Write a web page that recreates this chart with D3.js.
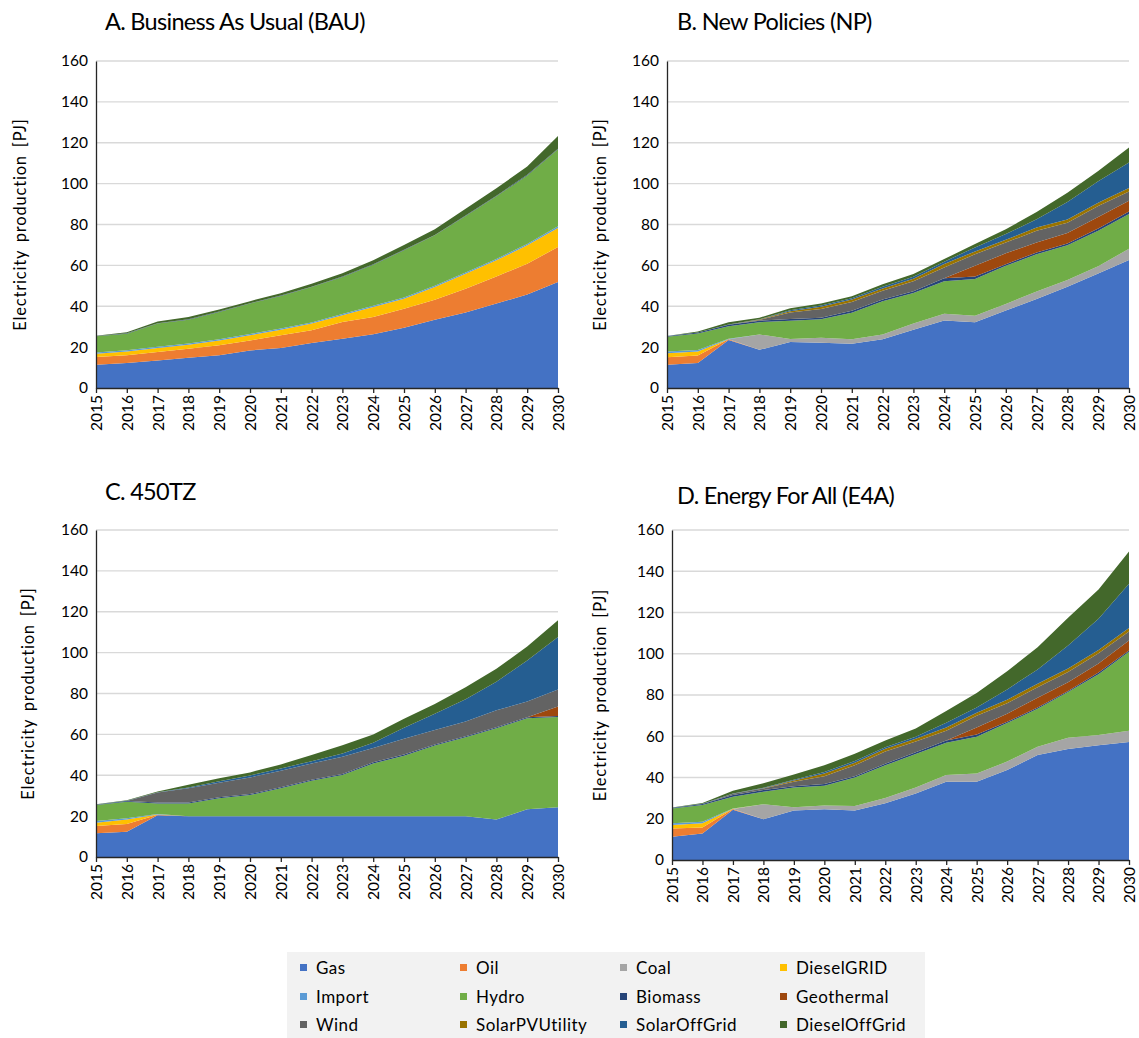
<!DOCTYPE html>
<html>
<head>
<meta charset="utf-8">
<script src="https://cdn.jsdelivr.net/npm/d3@7"></script>
<style>
  body { margin: 0; background: #fff; }
  svg { display: block; }
  text { font-family: Lato, "Noto Sans", sans-serif; fill: #000; }
</style>
</head>
<body>
<svg id="chart" width="1139" height="1038"></svg>
<script>
// Years on the horizontal axis
const years = [2015, 2016, 2017, 2018, 2019, 2020, 2021, 2022, 2023, 2024, 2025, 2026, 2027, 2028, 2029, 2030];
const yTicks = [0, 20, 40, 60, 80, 100, 120, 140, 160];

// Technologies, in stacking order (bottom to top)
const techNames = ["Gas", "Oil", "Coal", "DieselGRID", "Import", "Hydro", "Biomass",
  "Geothermal", "Wind", "SolarPVUtility", "SolarOffGrid", "DieselOffGrid"];
const techColors = ["#4472C4", "#ED7D31", "#A5A5A5", "#FFC000", "#5B9BD5", "#70AD47", "#264478",
  "#9E480E", "#636363", "#997300", "#255E91", "#43682B"];

// A. Business As Usual (BAU) — electricity production [PJ]
const bauGas = [11.4, 12.2, 13.5, 14.8, 16.0, 18.4, 19.6, 22.0, 24.1, 26.3, 29.5, 33.4, 36.9, 41.3, 45.7, 51.9];
const bauOil = [3.8, 3.8, 4.1, 4.4, 4.9, 4.9, 6.2, 6.2, 8.2, 8.4, 9.3, 9.8, 11.7, 13.3, 15.1, 17.1];
const bauCoal = [0, 0, 0, 0, 0, 0, 0, 0, 0, 0, 0, 0, 0, 0, 0, 0];
const bauDieselGRID = [1.6, 1.9, 2.0, 2.0, 2.4, 2.5, 2.7, 3.3, 3.3, 4.9, 4.9, 6.2, 7.3, 7.9, 9.0, 9.3];
const bauImport = [0.6, 0.6, 0.6, 0.6, 0.6, 0.6, 0.6, 0.6, 0.6, 0.6, 0.6, 0.6, 0.6, 0.6, 0.7, 0.8];
const bauHydro = [7.9, 8.1, 11.3, 11.6, 13.3, 14.9, 15.9, 17.3, 18.1, 20.1, 23.1, 24.7, 27.7, 30.7, 33.5, 37.7];
const bauBiomass = [0.1, 0.2, 0.2, 0.2, 0.2, 0.2, 0.2, 0.2, 0.2, 0.2, 0.2, 0.2, 0.2, 0.3, 0.3, 0.3];
const bauGeothermal = [0, 0, 0, 0, 0, 0, 0, 0, 0, 0, 0, 0, 0, 0, 0, 0];
const bauWind = [0, 0, 0, 0, 0, 0, 0, 0, 0, 0, 0, 0, 0, 0, 0, 0];
const bauSolarPVUtility = [0, 0, 0, 0, 0, 0, 0, 0, 0, 0, 0, 0, 0, 0, 0, 0];
const bauSolarOffGrid = [0, 0, 0, 0, 0, 0, 0, 0, 0, 0, 0, 0, 0, 0, 0, 0];
const bauDieselOffGrid = [0.2, 0.5, 0.8, 1.1, 1.0, 1.0, 1.2, 1.4, 1.6, 2.0, 2.4, 2.8, 3.3, 3.6, 4.1, 6.2];

// B. New Policies (NP)
const npGas = [11.4, 12.2, 23.5, 18.7, 22.5, 22.2, 21.7, 23.8, 28.5, 33.0, 32.2, 37.9, 43.6, 49.5, 56.0, 62.6];
const npOil = [3.7, 3.7, 0.3, 0, 0, 0, 0, 0, 0, 0, 0, 0, 0, 0, 0, 0];
const npCoal = [0, 0, 0, 7.5, 1.5, 2.4, 2.1, 2.4, 3.0, 3.3, 3.2, 3.2, 3.6, 3.4, 3.6, 5.5];
const npDieselGRID = [1.9, 2.0, 0.1, 0, 0, 0, 0, 0, 0, 0, 0, 0, 0, 0, 0, 0];
const npImport = [0.8, 0.7, 0.2, 0, 0, 0, 0, 0, 0, 0, 0, 0, 0, 0, 0, 0];
const npHydro = [7.3, 8.1, 6.1, 6.0, 8.9, 9.1, 13.0, 16.2, 15.0, 15.9, 17.9, 18.7, 18.3, 17.0, 17.3, 17.0];
const npBiomass = [0.2, 0.4, 0.8, 0.7, 0.9, 0.7, 1.0, 0.9, 0.9, 1.5, 1.2, 0.8, 0.8, 0.8, 1.1, 1.2];
const npGeothermal = [0, 0, 0, 0, 0, 0, 0, 0, 0, 0, 5.3, 5.3, 4.9, 5.2, 5.7, 5.3];
const npWind = [0, 0, 0, 0.4, 3.2, 4.2, 4.3, 4.3, 4.8, 5.3, 5.7, 5.3, 5.7, 4.9, 5.4, 4.6];
const npSolarPVUtility = [0, 0, 0, 0.2, 0.6, 1.2, 1.2, 1.1, 1.3, 1.7, 1.3, 1.3, 1.6, 1.6, 1.6, 1.6];
const npSolarOffGrid = [0.1, 0.1, 0.1, 0.1, 0.5, 0.6, 0.6, 0.8, 0.9, 1.1, 2.0, 2.8, 4.1, 8.6, 10.5, 12.5];
const npDieselOffGrid = [0.1, 0.4, 1.1, 0.8, 0.9, 0.9, 1.0, 1.3, 1.4, 1.3, 1.6, 2.4, 3.5, 4.5, 5.0, 7.4];

// C. 450TZ
const tzGas = [11.6, 12.4, 20.4, 19.9, 19.9, 19.9, 19.9, 19.9, 19.9, 19.9, 19.9, 19.9, 19.9, 18.3, 23.4, 24.3];
const tzOil = [3.6, 3.7, 0.3, 0, 0, 0, 0, 0, 0, 0, 0, 0, 0, 0, 0, 0];
const tzCoal = [0, 0, 0, 0, 0, 0, 0, 0, 0, 0, 0, 0, 0, 0, 0, 0];
const tzDieselGRID = [1.6, 2.3, 0.1, 0, 0, 0, 0, 0, 0, 0, 0, 0, 0, 0, 0, 0];
const tzImport = [0.8, 0.5, 0.2, 0, 0, 0, 0, 0, 0, 0, 0, 0, 0, 0, 0, 0];
const tzHydro = [7.8, 8.1, 5.2, 6.3, 8.8, 10.4, 13.7, 17.4, 20.2, 25.9, 29.7, 34.7, 38.7, 44.7, 44.5, 44.2];
const tzBiomass = [0.2, 0.4, 0.5, 0.5, 0.5, 0.5, 0.5, 0.5, 0.5, 0.5, 0.5, 0.5, 0.5, 0.5, 0.5, 0.5];
const tzGeothermal = [0, 0, 0, 0, 0, 0, 0, 0, 0, 0, 0, 0, 0, 0, 0, 4.6];
const tzWind = [0, 0, 4.9, 6.9, 7.1, 8.1, 8.1, 8.0, 8.4, 7.0, 7.7, 7.1, 7.2, 8.3, 7.7, 8.4];
const tzSolarPVUtility = [0, 0, 0, 0, 0, 0, 0, 0, 0, 0, 0, 0, 0, 0, 0, 0];
const tzSolarOffGrid = [0.1, 0.1, 0.1, 0.4, 0.8, 1.0, 1.1, 1.1, 1.7, 2.6, 5.5, 7.9, 10.9, 14.0, 20.1, 25.6];
const tzDieselOffGrid = [0.1, 0.3, 0.3, 1.3, 1.4, 1.5, 2.0, 3.0, 4.0, 4.1, 4.3, 4.8, 5.9, 6.3, 6.8, 8.2];

// D. Energy For All (E4A)
const e4aGas = [11.3, 12.9, 24.4, 19.8, 24.0, 24.6, 24.0, 27.5, 32.3, 38.0, 38.0, 43.6, 50.9, 53.8, 55.6, 57.2];
const e4aOil = [4.0, 2.8, 0.3, 0, 0, 0, 0, 0, 0, 0, 0, 0, 0, 0, 0, 0];
const e4aCoal = [0, 0, 0, 7.2, 1.6, 1.8, 2.2, 2.6, 2.9, 3.2, 4.0, 4.1, 4.0, 5.5, 5.0, 5.5];
const e4aDieselGRID = [1.7, 2.1, 0.1, 0, 0, 0, 0, 0, 0, 0, 0, 0, 0, 0, 0, 0];
const e4aImport = [0.8, 0.8, 0.2, 0, 0, 0, 0, 0, 0, 0, 0, 0, 0, 0, 0, 0];
const e4aHydro = [7.2, 8.1, 5.7, 6.1, 9.6, 9.6, 13.8, 15.8, 16.2, 15.6, 17.8, 18.7, 18.4, 22.1, 29.5, 38.3];
const e4aBiomass = [0.2, 0.5, 0.8, 0.8, 0.6, 0.8, 0.6, 0.8, 0.8, 1.2, 1.0, 0.6, 0.6, 0.6, 0.8, 0.6];
const e4aGeothermal = [0, 0, 0, 0, 0, 0, 0, 0, 0, 0, 3.5, 3.9, 4.8, 4.2, 4.4, 4.8];
const e4aWind = [0, 0, 0.6, 0.8, 2.1, 3.8, 5.3, 5.9, 5.3, 4.7, 5.7, 5.1, 5.1, 5.0, 5.0, 4.4];
const e4aSolarPVUtility = [0, 0, 0, 0.1, 0.6, 1.3, 1.3, 1.3, 1.3, 1.5, 1.4, 1.7, 1.6, 1.6, 1.5, 1.7];
const e4aSolarOffGrid = [0.1, 0.1, 0.1, 0.2, 0.4, 0.8, 0.8, 0.8, 1.0, 2.3, 2.6, 5.0, 7.0, 11.2, 15.2, 21.5];
const e4aDieselOffGrid = [0.1, 0.3, 1.4, 2.2, 2.5, 3.2, 3.5, 3.2, 4.0, 5.8, 7.0, 8.8, 10.8, 13.5, 14.2, 15.6];

// Panel definitions: series arrays per scenario plus the frame of each plot
const panels = [
  { title: "A. Business As Usual (BAU)", tx: 105, ty: 30, left: 96, right: 558, top: 61, bottom: 388, labelX: 20,
    series: [bauGas, bauOil, bauCoal, bauDieselGRID, bauImport, bauHydro, bauBiomass, bauGeothermal, bauWind, bauSolarPVUtility, bauSolarOffGrid, bauDieselOffGrid] },
  { title: "B. New Policies (NP)", tx: 677, ty: 30, left: 667, right: 1129, top: 61, bottom: 388, labelX: 600,
    series: [npGas, npOil, npCoal, npDieselGRID, npImport, npHydro, npBiomass, npGeothermal, npWind, npSolarPVUtility, npSolarOffGrid, npDieselOffGrid] },
  { title: "C. 450TZ", tx: 105, ty: 500, left: 96, right: 558, top: 530, bottom: 857, labelX: 28,
    series: [tzGas, tzOil, tzCoal, tzDieselGRID, tzImport, tzHydro, tzBiomass, tzGeothermal, tzWind, tzSolarPVUtility, tzSolarOffGrid, tzDieselOffGrid] },
  { title: "D. Energy For All (E4A)", tx: 677, ty: 504, left: 672, right: 1129, top: 530, bottom: 860, labelX: 600,
    series: [e4aGas, e4aOil, e4aCoal, e4aDieselGRID, e4aImport, e4aHydro, e4aBiomass, e4aGeothermal, e4aWind, e4aSolarPVUtility, e4aSolarOffGrid, e4aDieselOffGrid] }
];

const svg = d3.select("#chart");
const color = d3.scaleOrdinal().domain(techNames).range(techColors);

panels.forEach(p => {
  const g = svg.append("g");
  const x = d3.scalePoint().domain(years).range([p.left, p.right]);
  const y = d3.scaleLinear().domain([0, 160]).range([p.bottom, p.top]);

  // horizontal gridlines
  g.append("g").selectAll("line").data(yTicks.filter(t => t > 0)).join("line")
    .attr("x1", p.left).attr("x2", p.right)
    .attr("y1", d => y(d)).attr("y2", d => y(d))
    .attr("stroke", "#d9d9d9").attr("stroke-width", 1.3);

  // stacked areas
  const rows = years.map((yr, i) => {
    const r = { year: yr };
    techNames.forEach((k, j) => { r[k] = p.series[j][i]; });
    return r;
  });
  const stacked = d3.stack().keys(techNames)(rows);
  const area = d3.area()
    .x(d => x(d.data.year))
    .y0(d => y(d[0]))
    .y1(d => y(d[1]));
  g.append("g").selectAll("path").data(stacked).join("path")
    .attr("d", area)
    .attr("fill", d => color(d.key));

  // y axis
  const ya = g.append("g").attr("transform", `translate(${p.left},0)`)
    .call(d3.axisLeft(y).tickValues(yTicks).tickSize(0).tickPadding(8));
  ya.select(".domain").attr("stroke", "#262626").attr("stroke-width", 1.3);
  ya.selectAll("text").attr("font-size", 15.5).attr("font-family", "Lato, sans-serif").attr("fill", "#000");

  // x axis with rotated year labels
  const xa = g.append("g").attr("transform", `translate(0,${p.bottom})`)
    .call(d3.axisBottom(x).tickSize(5).tickSizeOuter(0));
  xa.select(".domain").attr("stroke", "#262626").attr("stroke-width", 1.3);
  xa.selectAll(".tick line").attr("stroke", "#262626").attr("stroke-width", 1.3);
  xa.selectAll("text")
    .attr("font-size", 15.5).attr("font-family", "Lato, sans-serif").attr("fill", "#000")
    .attr("transform", "rotate(-90)")
    .attr("text-anchor", "end")
    .attr("x", -7).attr("y", 0).attr("dy", "0.35em");

  // axis title
  g.append("text")
    .attr("transform", `translate(${p.labelX},${(p.top + p.bottom) / 2}) rotate(-90)`)
    .attr("text-anchor", "middle").attr("dy", "0.35em")
    .attr("font-size", 16.5)
    .style("letter-spacing", "0.8px").style("word-spacing", "3px")
    .text("Electricity production [PJ]");

  // panel title
  g.append("text").attr("x", p.tx).attr("y", p.ty)
    .attr("font-size", 23.5).style("letter-spacing", "-0.7px").text(p.title);
});

// legend
const legend = svg.append("g");
legend.append("rect").attr("x", 287).attr("y", 952).attr("width", 638).attr("height", 90).attr("fill", "#f2f2f2");
const colX = [300, 460, 620, 780];
const rowY = [968, 997, 1025];
const items = legend.selectAll("g.item").data(techNames).join("g")
  .attr("class", "item")
  .attr("transform", (d, i) => `translate(${colX[i % 4]},${rowY[Math.floor(i / 4)]})`);
items.append("rect").attr("x", 0).attr("y", -4).attr("width", 7).attr("height", 7).attr("fill", d => color(d));
items.append("text").attr("x", 16).attr("y", 0).attr("dy", "0.35em")
  .attr("font-size", 17).style("letter-spacing", "0.5px").text(d => d);
</script>
</body>
</html>
